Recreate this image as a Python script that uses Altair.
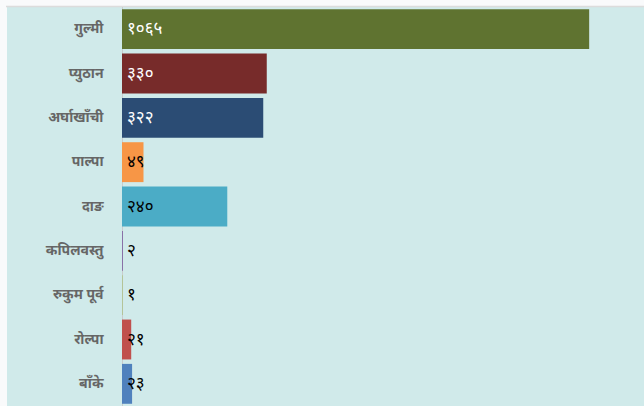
import altair as alt
import pandas as pd

districts = ["गुल्मी", "प्युठान", "अर्घाखाँची", "पाल्पा", "दाङ", "कपिलवस्तु", "रुकुम पूर्व", "रोल्पा", "बाँके"]
values = [1065, 330, 322, 49, 240, 2, 1, 21, 23]
labels = ["१०६५", "३३०", "३२२", "४९", "२४०", "२", "१", "२१", "२३"]
bar_colors = ["#5f7330", "#772b2a", "#2b4c74", "#f79646", "#4bacc6", "#8064a2", "#9bbb59", "#c0504d", "#4f81bd"]
text_colors = ["#ffffff", "#ffffff", "#ffffff", "#000000", "#000000", "#000000", "#000000", "#000000", "#000000"]

df = pd.DataFrame({
    "district": districts,
    "value": values,
    "label": labels,
    "bar_color": bar_colors,
    "text_color": text_colors,
})

W, H = 522, 399
FONT = "Noto Sans"

y_enc = alt.Y("district:N", sort=districts, title=None,
              scale=alt.Scale(paddingInner=0.1, paddingOuter=0.05),
              axis=alt.Axis(labelFontSize=14, labelFontWeight="bold", labelColor="#666666",
                            labelFont=FONT, labelPadding=19, ticks=False, zindex=1,
                            domain=False, labelLimit=200))
x_enc = alt.X("value:Q", scale=alt.Scale(domain=[0, 1190]), axis=None)

bg = alt.Chart(pd.DataFrame({"a": [0]})).mark_rect(color="#d0eaea").encode(
    x=alt.value(-115), x2=alt.value(W), y=alt.value(0), y2=alt.value(H + 5)
)
top_line = alt.Chart(pd.DataFrame({"a": [0]})).mark_rule(color="#dcdcdc", strokeWidth=1.5).encode(
    x=alt.value(-116), x2=alt.value(W), y=alt.value(-0.5)
)
domain_line = alt.Chart(pd.DataFrame({"a": [0]})).mark_rule(color="#c8cccc", strokeWidth=1).encode(
    x=alt.value(0.5), y=alt.value(0), y2=alt.value(H + 5)
)

bars = alt.Chart(df).mark_bar().encode(
    y=y_enc, x=x_enc,
    color=alt.Color("bar_color:N", scale=None),
)

texts = alt.Chart(df).mark_text(align="left", baseline="middle", dx=5, fontSize=17,
                                fontWeight="normal", font=FONT).encode(
    y=y_enc, x=alt.value(0),
    text="label:N",
    color=alt.Color("text_color:N", scale=None),
)

chart = alt.layer(bg, top_line, domain_line, bars, texts).properties(
    width=W, height=H,
    background="#f9fafb",
    padding={"left": 122, "top": 7, "right": 0, "bottom": 0},
    autosize=alt.AutoSizeParams(type="none"),
).configure_view(stroke=None)

chart.save("out.html", embed_options={"renderer": "svg", "actions": False})
